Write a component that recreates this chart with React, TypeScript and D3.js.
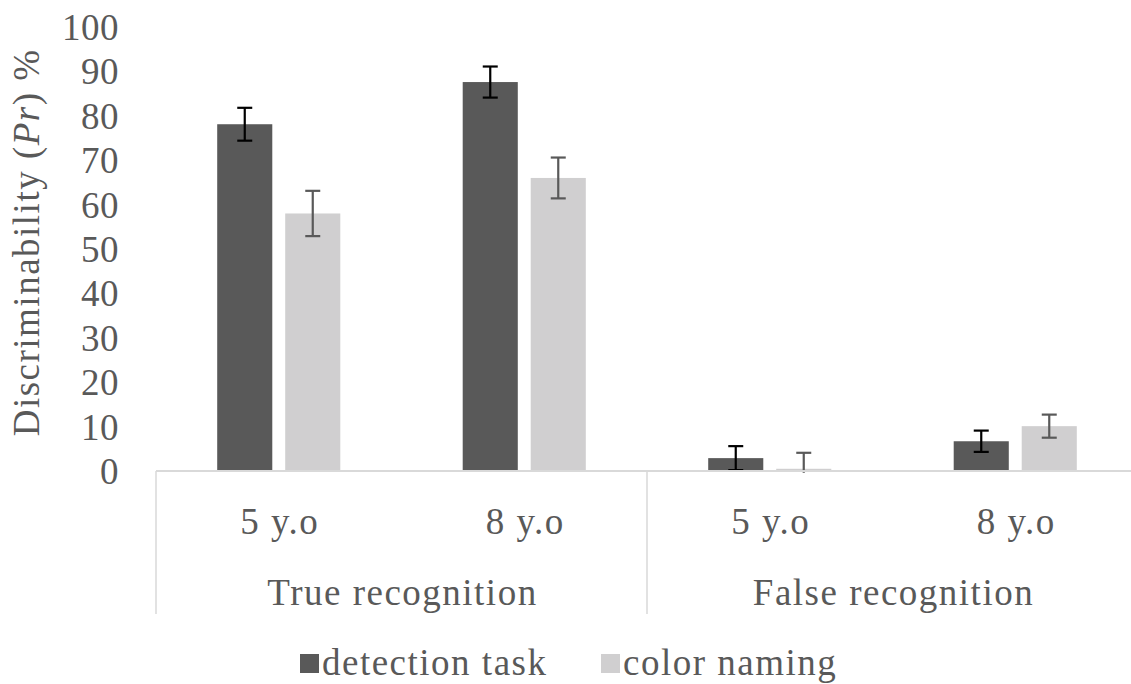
import { useEffect } from "react";
import * as d3 from "d3";

const groups = ["True recognition", "False recognition"];
const ages = ["5 y.o", "8 y.o"];
const categories = ["True-5", "True-8", "False-5", "False-8"];
const seriesNames = ["detection task", "color naming"];
const detection = [78.1, 87.6, 2.9, 6.7];
const detectionErr = [3.7, 3.5, 2.7, 2.4];
const colorNaming = [58.0, 66.0, 0.5, 10.1];
const colorNamingErr = [5.1, 4.6, 3.6, 2.6];
const yTicks = [0, 10, 20, 30, 40, 50, 60, 70, 80, 90, 100];

const W = 1131;
const H = 684;
const TEXT = "#595959";
const COLORS = ["#595959", "#d0cfd0"];
const ERR_COLORS = ["#000000", "#595959"];
const FONT = "'Liberation Serif', 'Times New Roman', Times, serif";

export default function App() {
  useEffect(() => {
    document.body.style.margin = "0";
  }, []);

  const left = 156;
  const right = 1138;
  const x0 = d3.scaleBand().domain(categories).range([left, right]).padding(0);
  const x1 = d3
    .scaleBand()
    .domain(seriesNames)
    .range([0, x0.bandwidth()])
    .paddingInner(0.19)
    .paddingOuter(0.9);
  const y = d3.scaleLinear().domain([0, 100]).range([471, 27]);
  const base = y(0);

  const values = [detection, colorNaming];
  const errs = [detectionErr, colorNamingErr];
  const groupW = x0.bandwidth() * 2;

  const txt = { fontSize: 37, fill: TEXT, letterSpacing: 1.5 };

  return (
    <svg width={W} height={H} style={{ display: "block", fontFamily: FONT }}>
      {/* y tick labels */}
      {yTicks.map((t) => (
        <text
          key={t}
          x={119}
          y={y(t)}
          dy="0.35em"
          textAnchor="end"
          {...txt}
          letterSpacing={0.5}
        >
          {t}
        </text>
      ))}
      {/* y axis title */}
      <text transform={`translate(39,${y(51.5)}) rotate(-90)`} textAnchor="middle" {...txt}>
        Discriminability (<tspan fontStyle="italic">Pr</tspan>) %
      </text>

      {/* bars */}
      {categories.map((c, i) => (
        <g key={c} transform={`translate(${x0(c)},0)`}>
          {seriesNames.map((s, k) => {
            const v = values[k][i];
            const e = errs[k][i];
            const bx = x1(s) || 0;
            const cx = bx + x1.bandwidth() / 2;
            return (
              <g key={s}>
                <rect
                  x={bx}
                  y={y(v)}
                  width={x1.bandwidth()}
                  height={base - y(v)}
                  fill={COLORS[k]}
                />
                <g stroke={ERR_COLORS[k]} strokeWidth={2.2}>
                  <line x1={cx} x2={cx} y1={y(v + e)} y2={y(Math.max(v - e, -0.4))} />
                  <line x1={cx - 7.5} x2={cx + 7.5} y1={y(v + e)} y2={y(v + e)} />
                  {v - e > 0 && (
                    <line x1={cx - 7.5} x2={cx + 7.5} y1={y(v - e)} y2={y(v - e)} />
                  )}
                </g>
              </g>
            );
          })}
        </g>
      ))}

      {/* category axis */}
      <line x1={left} x2={right} y1={base} y2={base} stroke="#d9d9d9" strokeWidth={2} />
      {[0, 1, 2].map((i) => (
        <line
          key={i}
          x1={left + i * groupW}
          x2={left + i * groupW}
          y1={base}
          y2={614}
          stroke="#d9d9d9"
          strokeWidth={1.5}
        />
      ))}
      {categories.map((c, i) => (
        <text
          key={c}
          x={(x0(c) || 0) + x0.bandwidth() / 2 + 1}
          y={521}
          dy="0.35em"
          textAnchor="middle"
          {...txt}
        >
          {ages[i % 2]}
        </text>
      ))}
      {groups.map((g, i) => (
        <text
          key={g}
          x={left + groupW * i + groupW / 2 + 1}
          y={592}
          dy="0.35em"
          textAnchor="middle"
          {...txt}
        >
          {g}
        </text>
      ))}

      {/* legend */}
      {seriesNames.map((s, k) => {
        const lx = k === 0 ? 300 : 601;
        return (
          <g key={s}>
            <rect x={lx} y={654} width={19} height={19} fill={COLORS[k]} />
            <text x={lx + 22} y={662} dy="0.35em" {...txt}>
              {s}
            </text>
          </g>
        );
      })}
    </svg>
  );
}
